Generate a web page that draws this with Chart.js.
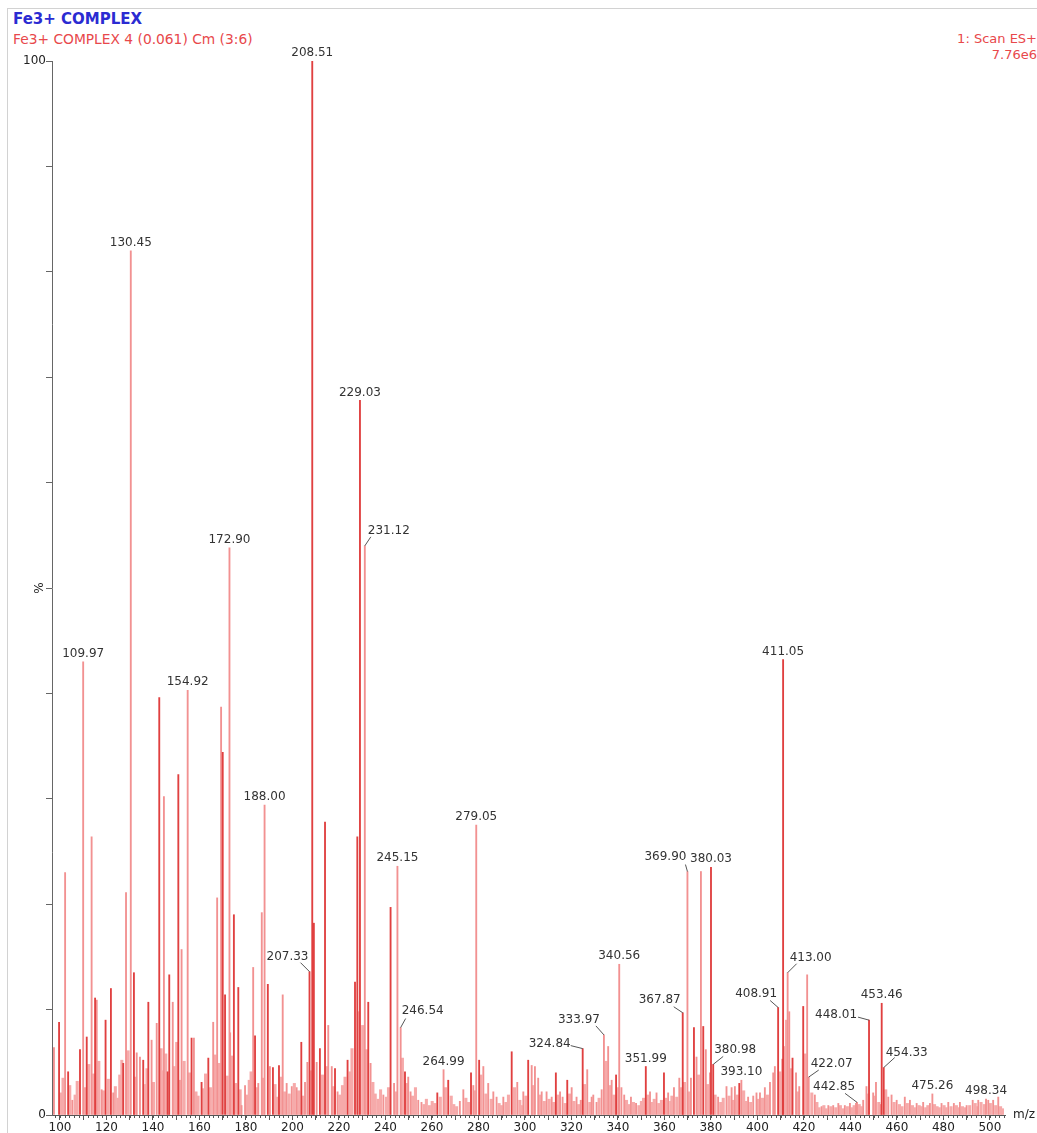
<!DOCTYPE html>
<html>
<head>
<meta charset="utf-8">
<title>Fe3+ COMPLEX</title>
<script src="https://cdn.jsdelivr.net/npm/chart.js@4.4.0/dist/chart.umd.min.js"></script>
<style>
  html, body { margin: 0; padding: 0; background: #fff; }
  #wrap { position: relative; width: 1037px; height: 1133px; overflow: hidden; }
  #frame { position: absolute; left: 7px; top: 8px; right: -4px; bottom: -4px;
           border-top: 1px solid #d2d2d2; border-left: 1px solid #d2d2d2; }
  .hdr { position: absolute; font-family: "DejaVu Sans", sans-serif; white-space: nowrap; }
  #title { left: 13px; top: 10px; font-weight: bold; font-size: 15px; color: #2b2bd2; }
  #sub { left: 13px; top: 31px; font-size: 13.8px; color: #e8484b; }
  #scan { right: 0px; top: 31px; font-size: 13px; line-height: 16px; color: #e8484b; text-align: right; }
  canvas { position: absolute; left: 0; top: 0; }
</style>
</head>
<body>
<div id="wrap">
  <div id="frame"></div>
  <div class="hdr" id="title">Fe3+ COMPLEX</div>
  <div class="hdr" id="sub">Fe3+ COMPLEX 4 (0.061) Cm (3:6)</div>
  <div class="hdr" id="scan">1: Scan ES+<br>7.76e6</div>
  <canvas id="spectrum" width="1037" height="1133"></canvas>
</div>
<script>
// strong (dark red) lines: m/z and relative intensity (%)
const strongMz = [99.6, 103.5, 108.6, 111.5, 115.1, 119.6, 121.9, 127.2, 131.8, 135.8,
  138.0, 142.7, 146.3, 147.0, 150.9, 156.6, 160.9, 163.8, 170.0, 171.0,
  174.8, 176.7, 183.9, 189.4, 191.6, 194.2, 203.8, 207.33, 208.51, 209.2,
  211.8, 214.0, 218.3, 223.7, 226.9, 227.9, 229.03, 232.6, 242.2, 248.4,
  262.3, 267.0, 276.8, 280.3, 294.3, 301.4, 313.3, 318.2, 324.84, 339.2,
  351.99, 359.8, 367.87, 372.7, 376.7, 380.03, 380.98, 392.2, 408.91, 410.8,
  411.05, 415.1, 419.7, 448.01, 453.46, 454.33];
const strongInt = [8.8, 4.1, 6.2, 7.4, 11.1, 9.0, 12.0, 4.9, 13.5, 5.2,
  10.7, 39.6, 4.1, 13.3, 32.3, 7.3, 3.1, 5.4, 34.4, 11.4,
  19.0, 12.1, 7.5, 12.4, 4.5, 4.7, 6.9, 13.6, 100, 18.2,
  6.3, 27.8, 4.4, 5.2, 12.6, 26.4, 67.8, 10.7, 19.7, 4.1,
  2.1, 3.3, 4.0, 5.2, 6.0, 5.2, 4.0, 3.3, 6.3, 3.8,
  4.6, 4.0, 9.7, 8.3, 8.4, 23.5, 4.8, 3.0, 10.2, 5.3,
  43.2, 5.4, 10.3, 9.0, 10.6, 4.5];

// soft (pink) lines
const softMz = [97.4, 102.2, 105.3, 109.97, 113.6, 115.8, 117.9, 122.9, 128.4, 130.45,
  133.0, 134.4, 139.4, 141.6, 144.7, 148.5, 152.3, 154.92, 157.6, 165.9,
  167.6, 169.3, 172.90, 173.2, 178.1, 179.6, 183.1, 185.3, 186.8, 188.00,
  190.3, 195.8, 197.5, 199.7, 201.8, 205.4, 206.4, 210.4, 215.4, 216.9,
  219.4, 231.12, 233.6, 239.1, 243.7, 245.15, 246.54, 249.8, 250.8, 254.1,
  255.5, 264.99, 272.0, 273.5, 277.8, 279.05, 282.1, 284.2, 286.4, 287.8,
  290.7, 296.7, 299.3, 302.9, 304.3, 305.7, 307.2, 309.3, 311.5, 315.1,
  316.2, 320.1, 322.2, 324.0, 326.8, 328.7, 329.4, 330.8, 333.0, 333.97,
  335.8, 337.3, 340.1, 340.56, 341.5, 342.7, 345.6, 347.8, 353.8, 356.6,
  361.6, 364.1, 366.4, 369.90, 371.4, 373.8, 375.7, 377.8, 379.6, 383.1,
  386.7, 388.9, 390.3, 393.10, 396.0, 398.2, 399.6, 401.1, 403.2, 405.4,
  406.8, 407.5, 413.00, 413.7, 416.6, 418.0, 421.4, 422.07, 424.7, 427.6,
  430.5, 432.6, 434.8, 437.6, 439.8, 442.4, 442.85, 445.5, 446.9, 449.8,
  451.0, 453.1, 456.3, 457.7, 459.9, 463.4, 465.6, 468.5, 471.3, 474.2,
  475.26, 479.2, 482.1, 484.5, 487.1, 490.0, 492.6, 495.0, 498.34, 499.3,
  501.4, 503.6];
const softInt = [6.4, 23.0, 1.4, 43.0, 26.4, 10.9, 2.4, 2.1, 21.1, 82.0,
  5.9, 5.5, 7.1, 8.7, 30.2, 10.7, 15.7, 40.3, 7.3, 8.8,
  20.6, 38.7, 53.8, 7.8, 0.9, 2.8, 14.0, 3.0, 19.2, 29.4,
  4.6, 11.4, 3.0, 2.7, 2.6, 3.1, 5.0, 5.0, 8.5, 4.6,
  2.2, 54.0, 4.9, 1.9, 3.0, 23.6, 8.3, 3.6, 2.2, 1.4,
  1.2, 4.3, 1.3, 2.4, 2.8, 27.5, 4.6, 3.0, 2.2, 1.7,
  1.7, 3.1, 2.2, 4.7, 4.6, 3.5, 2.2, 2.2, 1.7, 2.2,
  1.7, 2.6, 1.7, 1.4, 4.3, 1.7, 1.9, 1.2, 2.4, 7.6,
  6.5, 3.3, 2.6, 14.3, 2.6, 1.9, 1.7, 1.1, 2.2, 2.1,
  2.1, 2.6, 3.5, 23.1, 3.5, 5.5, 23.1, 6.2, 4.0, 1.7,
  2.7, 2.6, 2.7, 3.3, 1.7, 1.8, 2.1, 2.1, 2.6, 3.1,
  4.0, 4.6, 13.5, 9.8, 4.0, 2.7, 13.3, 3.6, 1.9, 0.8,
  0.9, 0.9, 1.1, 0.9, 1.1, 1.1, 1.2, 1.4, 2.7, 2.1,
  3.1, 1.0, 1.7, 1.9, 1.4, 1.7, 1.4, 1.1, 1.2, 1.1,
  2.0, 1.1, 1.2, 1.1, 1.2, 0.9, 1.4, 1.4, 1.5, 1.4,
  1.4, 1.7];

// low-level background ions
const floorMz = [100.4, 101.3, 104.2, 106.5, 107.4, 110.8, 112.4, 114.5, 116.7, 118.6,
  120.8, 123.8, 124.9, 125.7, 126.6, 129.3, 132.5, 136.9, 137.4, 140.2,
  143.5, 144.0, 145.5, 149.3, 150.2, 151.6, 153.4, 155.7, 158.5, 159.4,
  161.8, 162.6, 164.7, 166.7, 168.4, 171.9, 174.0, 175.6, 177.5, 180.5,
  181.4, 182.2, 184.6, 187.4, 192.5, 193.4, 195.0, 196.7, 198.6, 200.8,
  202.7, 204.6, 207.9, 212.9, 215.0, 217.6, 220.4, 221.5, 222.6, 224.8,
  225.6, 228.4, 230.2, 231.8, 234.6, 235.6, 236.8, 237.9, 240.4, 241.3,
  244.5, 247.3, 249.1, 251.7, 252.9, 256.6, 257.6, 258.9, 260.1, 261.2,
  263.6, 265.8, 268.3, 269.4, 270.6, 274.6, 275.7, 278.4, 281.0, 283.2,
  285.5, 288.9, 289.8, 291.8, 292.9, 295.5, 297.8, 298.4, 300.4, 303.6,
  306.6, 308.3, 310.4, 312.4, 314.2, 317.3, 319.2, 321.1, 323.1, 325.7,
  327.9, 331.9, 334.9, 336.6, 338.3, 343.7, 344.6, 346.7, 349.0, 350.1,
  351.0, 352.9, 354.7, 355.6, 357.6, 358.7, 360.7, 362.7, 363.2, 365.3,
  367.2, 368.6, 370.6, 374.7, 378.6, 381.8, 384.2, 385.3, 387.8, 389.6,
  391.3, 394.1, 395.0, 397.1, 400.3, 402.2, 404.3, 409.6, 411.9, 412.5,
  414.3, 417.3, 420.5, 423.4, 425.6, 426.5, 428.6, 429.5, 431.6, 433.7,
  435.7, 436.6, 438.7, 440.8, 441.6, 443.8, 444.6, 447.5, 450.4, 452.2,
  455.2, 458.8, 461.1, 462.2, 464.5, 466.7, 467.5, 469.6, 470.4, 472.4,
  473.3, 476.2, 477.3, 478.2, 480.3, 481.1, 483.3, 485.6, 486.4, 488.2,
  489.1, 491.3, 493.7, 494.3, 496.2, 497.6, 500.2, 502.5, 504.6, 505.4];
const floorInt = [2.1, 3.5, 2.8, 1.9, 3.2, 2.6, 4.8, 3.9, 5.1, 2.3,
  3.4, 2.7, 1.6, 3.8, 5.2, 6.1, 3.6, 2.9, 4.4, 3.1,
  6.3, 4.2, 5.8, 4.6, 6.9, 3.3, 5.1, 4.0, 2.2, 1.8,
  2.5, 3.9, 2.6, 5.7, 4.9, 3.7, 5.6, 3.0, 2.4, 1.9,
  3.3, 4.1, 2.6, 3.5, 2.9, 1.7, 3.6, 2.2, 2.0, 3.0,
  2.3, 1.8, 4.2, 3.8, 4.6, 2.7, 1.9, 2.8, 3.6, 4.1,
  6.3, 9.8, 8.5, 6.2, 3.1, 2.0, 1.5, 2.4, 1.7, 2.6,
  2.2, 5.4, 3.0, 1.8, 2.6, 1.0, 1.5, 0.9, 1.3, 1.1,
  1.7, 2.6, 1.8, 1.0, 0.8, 1.6, 1.2, 2.3, 3.8, 2.0,
  1.5, 1.1, 0.9, 1.2, 1.9, 2.6, 1.4, 0.9, 1.8, 2.8,
  1.9, 1.3, 1.5, 1.2, 1.9, 1.1, 2.0, 1.3, 1.0, 2.9,
  1.2, 1.6, 5.1, 2.8, 1.9, 1.4, 1.0, 1.2, 0.9, 1.3,
  1.6, 1.9, 1.2, 1.5, 1.1, 1.4, 1.6, 1.3, 1.8, 1.7,
  2.6, 3.1, 2.2, 3.8, 2.9, 1.9, 1.2, 1.6, 1.8, 1.4,
  1.9, 2.3, 1.3, 1.2, 1.5, 1.6, 1.9, 4.1, 6.5, 9.0,
  4.4, 2.2, 5.8, 2.1, 1.2, 0.7, 0.9, 0.6, 0.8, 0.7,
  0.9, 0.6, 0.8, 0.7, 0.9, 1.0, 0.8, 2.0, 1.8, 1.2,
  2.4, 1.2, 1.0, 0.8, 1.1, 0.9, 0.7, 0.9, 0.8, 0.7,
  0.9, 1.0, 0.8, 0.7, 0.9, 0.7, 0.8, 0.9, 0.7, 0.8,
  0.7, 0.9, 1.1, 0.8, 1.2, 1.0, 1.1, 0.9, 0.8, 0.6];

// peaks that carry their m/z as a label
const labelledMz = [109.97, 130.45, 154.92, 172.90, 188.00, 207.33, 208.51, 229.03,
  231.12, 245.15, 246.54, 264.99, 279.05, 324.84, 333.97, 340.56, 351.99, 367.87,
  369.90, 380.03, 380.98, 393.10, 408.91, 411.05, 413.00, 422.07, 442.85, 448.01,
  453.46, 454.33, 475.26, 498.34];

const xTickValues = [100, 110, 120, 130, 140, 150, 160, 170, 180, 190, 200, 210, 220,
  230, 240, 250, 260, 270, 280, 290, 300, 310, 320, 330, 340, 350, 360, 370, 380,
  390, 400, 410, 420, 430, 440, 450, 460, 470, 480, 490, 500];
const yTickValues = [0, 10, 20, 30, 40, 50, 60, 70, 80, 90, 100];

// labels that sit off to one side with a short leader line (pixel offsets from the peak top)
const callouts = {
  '207.33': { text: [-22, -15], lead: [-9, -9] },
  '231.12': { text: [24, -15], lead: [6, -9] },
  '246.54': { text: [22, -17], lead: [5, -9] },
  '324.84': { text: [-33, -5], lead: [-12, -3] },
  '333.97': { text: [-25, -15], lead: [-8, -9] },
  '367.87': { text: [-23, -13], lead: [-9, -6] },
  '369.90': { text: [-22, -15], lead: [-2, -7] },
  '380.98': { text: [22, -15], lead: [10, -8] },
  '408.91': { text: [-22, -14], lead: [-8, -7] },
  '413.00': { text: [23, -15], lead: [9, -9] },
  '422.07': { text: [23, -13], lead: [10, -7] },
  '442.85': { text: [-23, -15], lead: [-12, -9] },
  '448.01': { text: [-33, -5], lead: [-11, -3] },
  '454.33': { text: [23, -15], lead: [11, -10] }
};

const toPoints = (mz, ints) => mz.map((m, i) => ({ x: m, y: ints[i] }));

function intensityOf(mz) {
  let i = strongMz.indexOf(mz);
  if (i >= 0) return strongInt[i];
  i = softMz.indexOf(mz);
  return i >= 0 ? softInt[i] : 0;
}

const peakLabels = {
  id: 'peakLabels',
  afterDatasetsDraw(chart) {
    const { ctx, scales: { x, y } } = chart;
    ctx.save();
    ctx.font = '12px "DejaVu Sans", sans-serif';
    ctx.fillStyle = '#333';
    ctx.strokeStyle = '#555';
    ctx.lineWidth = 1;
    ctx.textAlign = 'center';
    ctx.textBaseline = 'middle';
    for (const mz of labelledMz) {
      const px = x.getPixelForValue(mz);
      const py = y.getPixelForValue(intensityOf(mz));
      const txt = mz.toFixed(2);
      const c = callouts[txt];
      if (c) {
        ctx.beginPath();
        ctx.moveTo(px + c.lead[0], py + c.lead[1]);
        ctx.lineTo(px, py);
        ctx.stroke();
        ctx.fillText(txt, px + c.text[0], py + c.text[1]);
      } else {
        ctx.fillText(txt, px, py - 8);
      }
    }
    ctx.restore();
  },
  afterDraw(chart) {
    const { ctx, chartArea, scales: { x, y } } = chart;
    ctx.save();
    // minor ticks along m/z
    ctx.strokeStyle = '#555';
    ctx.lineWidth = 1;
    ctx.beginPath();
    for (let v = 98; v <= 506; v += 2) {
      const px = Math.round(x.getPixelForValue(v)) + 0.5;
      ctx.moveTo(px, chartArea.bottom);
      ctx.lineTo(px, chartArea.bottom + 3);
    }
    ctx.stroke();
    ctx.fillStyle = '#222';
    ctx.font = '12px "DejaVu Sans", sans-serif';
    ctx.textBaseline = 'middle';
    ctx.textAlign = 'left';
    ctx.fillText('m/z', chartArea.right + 8, chartArea.bottom);
    // % sign beside the middle of the intensity axis
    ctx.translate(40, y.getPixelForValue(50));
    ctx.rotate(-Math.PI / 2);
    ctx.textAlign = 'center';
    ctx.fillText('%', 0, 0);
    ctx.restore();
  }
};

Chart.defaults.font.family = '"DejaVu Sans", sans-serif';
Chart.defaults.font.size = 12;
Chart.defaults.color = '#222';

new Chart(document.getElementById('spectrum'), {
  type: 'bar',
  data: {
    datasets: [
      { data: toPoints(strongMz, strongInt), backgroundColor: 'rgb(224,64,64)', barThickness: 1.2, grouped: false },
      { data: toPoints(softMz, softInt), backgroundColor: 'rgb(242,145,145)', barThickness: 1.2, grouped: false },
      { data: toPoints(floorMz, floorInt), backgroundColor: 'rgb(246,170,170)', barThickness: 2.4, grouped: false }
    ]
  },
  options: {
    responsive: false,
    animation: false,
    devicePixelRatio: 1,
    layout: { padding: { left: 0, right: 32, top: 61, bottom: 0 } },
    plugins: { legend: { display: false }, tooltip: { enabled: false } },
    scales: {
      x: {
        type: 'linear',
        min: 96.56,
        max: 506.5,
        offset: false,
        afterBuildTicks: (scale) => { scale.ticks = xTickValues.map(v => ({ value: v })); },
        afterFit: (scale) => { scale.height = 18; },
        ticks: {
          autoSkip: false,
          maxRotation: 0,
          padding: 1,
          callback: (v) => (v % 20 === 0 ? String(v) : '')
        },
        grid: { drawOnChartArea: false, offset: false, tickLength: 5, tickColor: '#555' },
        border: { color: '#555' }
      },
      y: {
        min: 0,
        max: 100,
        afterBuildTicks: (scale) => { scale.ticks = yTickValues.map(v => ({ value: v })); },
        afterFit: (scale) => { scale.width = 52; },
        ticks: {
          padding: 0,
          callback: (v) => (v === 0 || v === 100 ? String(v) : '')
        },
        grid: { drawOnChartArea: false, tickLength: 6, tickColor: '#666' },
        border: { color: '#666' }
      }
    }
  },
  plugins: [peakLabels]
});
</script>
</body>
</html>
